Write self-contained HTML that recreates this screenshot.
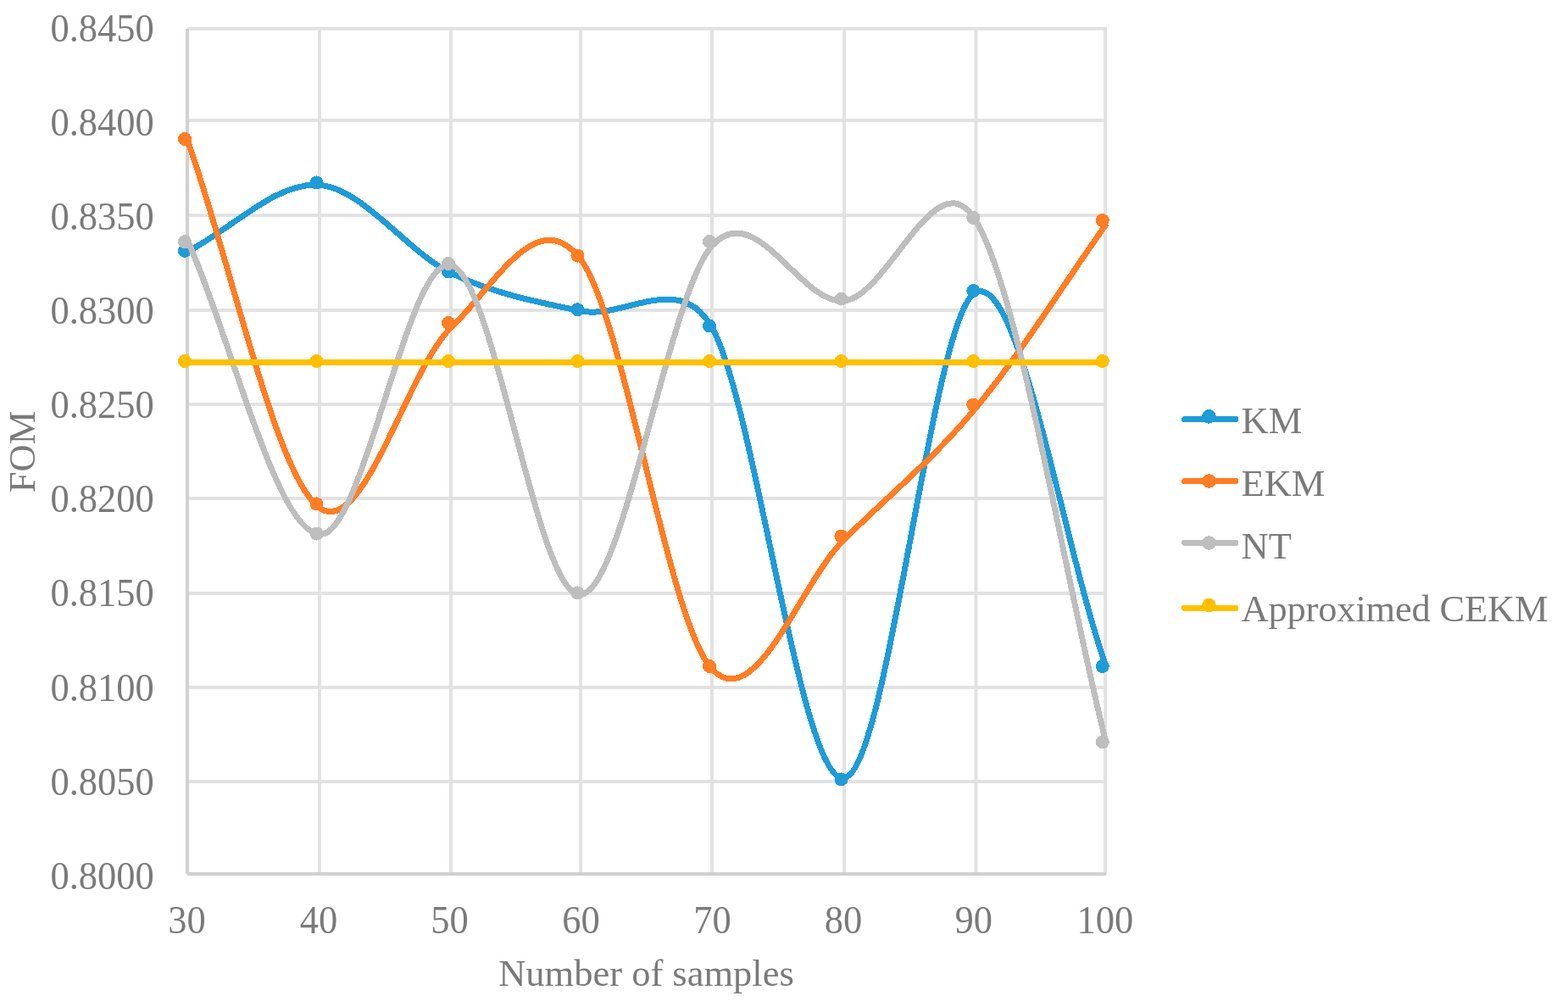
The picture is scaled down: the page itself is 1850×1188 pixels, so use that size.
<!DOCTYPE html><html><head><meta charset="utf-8"><title>FOM vs Number of samples</title><style>
html,body{margin:0;padding:0;background:#fff;width:1850px;height:1188px;overflow:hidden}
svg{display:block}
.s path,.s circle,.s line{shape-rendering:crispEdges}
text{font-family:"Liberation Serif","Times New Roman",serif;font-size:44.5px;fill:#7a7a7a}
</style></head><body>
<svg width="1850" height="1188" viewBox="0 0 1850 1188">
<rect width="1850" height="1188" fill="#fff"/>
<g stroke="#e2e2e2" stroke-width="4" fill="none">
<line x1="221" y1="33.8" x2="1306" y2="33.8"/>
<line x1="221" y1="142.0" x2="1306" y2="142.0"/>
<line x1="221" y1="254.0" x2="1306" y2="254.0"/>
<line x1="221" y1="366.0" x2="1306" y2="366.0"/>
<line x1="221" y1="477.0" x2="1306" y2="477.0"/>
<line x1="221" y1="588.0" x2="1306" y2="588.0"/>
<line x1="221" y1="700.0" x2="1306" y2="700.0"/>
<line x1="221" y1="811.0" x2="1306" y2="811.0"/>
<line x1="221" y1="922.0" x2="1306" y2="922.0"/>
<line x1="377.0" y1="34" x2="377.0" y2="1031"/>
<line x1="532.0" y1="34" x2="532.0" y2="1031"/>
<line x1="685.0" y1="34" x2="685.0" y2="1031"/>
<line x1="840.0" y1="34" x2="840.0" y2="1031"/>
<line x1="996.0" y1="34" x2="996.0" y2="1031"/>
<line x1="1151.5" y1="34" x2="1151.5" y2="1031"/>
<line x1="1304.0" y1="34" x2="1304.0" y2="1031"/>
</g>
<g stroke="#d0d0d0" stroke-width="4" fill="none">
<line x1="221" y1="34" x2="221" y2="1031"/>
<line x1="221" y1="1031.0" x2="1305" y2="1031.0"/>
</g>
<g text-anchor="end">
<text x="181.8" y="48.9" transform="matrix(1,0,0,1.0200,0,-0.978)">0.8450</text>
<text x="181.8" y="160.0" transform="matrix(1,0,0,1.0200,0,-3.200)">0.8400</text>
<text x="181.8" y="271.1" transform="matrix(1,0,0,1.0200,0,-5.422)">0.8350</text>
<text x="181.8" y="382.2" transform="matrix(1,0,0,1.0200,0,-7.644)">0.8300</text>
<text x="181.8" y="493.3" transform="matrix(1,0,0,1.0200,0,-9.866)">0.8250</text>
<text x="181.8" y="604.4" transform="matrix(1,0,0,1.0200,0,-12.088)">0.8200</text>
<text x="181.8" y="715.5" transform="matrix(1,0,0,1.0200,0,-14.310)">0.8150</text>
<text x="181.8" y="826.6" transform="matrix(1,0,0,1.0200,0,-16.532)">0.8100</text>
<text x="181.8" y="937.7" transform="matrix(1,0,0,1.0200,0,-18.754)">0.8050</text>
<text x="181.8" y="1048.8" transform="matrix(1,0,0,1.0200,0,-20.976)">0.8000</text>
</g>
<g text-anchor="middle">
<text x="220.5" y="1101" transform="matrix(1,0,0,1.0200,0,-22.020)">30</text>
<text x="376.0" y="1101" transform="matrix(1,0,0,1.0200,0,-22.020)">40</text>
<text x="530.5" y="1101" transform="matrix(1,0,0,1.0200,0,-22.020)">50</text>
<text x="685.6" y="1101" transform="matrix(1,0,0,1.0200,0,-22.020)">60</text>
<text x="840.6" y="1101" transform="matrix(1,0,0,1.0200,0,-22.020)">70</text>
<text x="995.1" y="1101" transform="matrix(1,0,0,1.0200,0,-22.020)">80</text>
<text x="1148.8" y="1101" transform="matrix(1,0,0,1.0200,0,-22.020)">90</text>
<text x="1303.9" y="1101" transform="matrix(1,0,0,1.0200,0,-22.020)">100</text>
</g>
<text text-anchor="middle" x="762.5" y="1163">Number of samples</text>
<text transform="translate(40.9,533) rotate(-90)" text-anchor="middle">FOM</text>
<g class="s">
<path d="M221.00,296.94 C273.00,270.75 325.17,214.17 377.00,218.37 C428.83,222.57 480.67,297.38 532.00,322.13 C583.33,346.88 633.67,356.15 685.00,366.85 C736.33,377.55 801.60,318.30 840.00,386.32 C891.83,478.13 944.08,924.62 996.00,917.72 C1047.92,910.82 1100.17,367.25 1151.50,344.90 C1202.83,322.55 1253.17,637.37 1304.00,783.61" fill="none" stroke="#1f9bd7" stroke-width="7" stroke-linecap="round" stroke-linejoin="round"/>
<g fill="#1f9bd7">
<circle cx="218.0" cy="295.9" r="8"/>
<circle cx="373.5" cy="215.4" r="8"/>
<circle cx="529.0" cy="320.5" r="8"/>
<circle cx="681.5" cy="365.3" r="8"/>
<circle cx="837.0" cy="384.5" r="8"/>
<circle cx="992.5" cy="919.4" r="8"/>
<circle cx="1148.3" cy="343.0" r="8"/>
<circle cx="1300.8" cy="786.0" r="8"/>
</g>
<path d="M221.00,165.09 C273.00,309.78 325.17,562.22 377.00,599.17 C428.83,636.12 480.67,435.66 532.00,386.77 C583.33,337.88 633.67,238.73 685.00,305.83 C736.33,372.92 788.17,734.24 840.00,789.34 C891.83,844.44 944.08,687.81 996.00,636.43 C1047.92,585.05 1100.17,542.80 1151.50,481.08 C1202.83,419.36 1253.17,337.76 1304.00,266.10" fill="none" stroke="#ff7d24" stroke-width="7" stroke-linecap="round" stroke-linejoin="round"/>
<g fill="#ff7d24">
<circle cx="218.0" cy="164.0" r="8"/>
<circle cx="373.5" cy="594.4" r="8"/>
<circle cx="529.0" cy="381.0" r="8"/>
<circle cx="681.5" cy="301.5" r="8"/>
<circle cx="837.0" cy="786.0" r="8"/>
<circle cx="992.5" cy="632.5" r="8"/>
<circle cx="1148.3" cy="477.5" r="8"/>
<circle cx="1300.8" cy="260.0" r="8"/>
</g>
<path d="M221.00,282.94 C273.00,398.77 325.17,625.43 377.00,630.43 C428.83,635.43 480.67,301.09 532.00,312.92 C583.33,324.75 633.67,705.25 685.00,701.44 C736.33,697.63 788.17,347.79 840.00,290.04 C891.83,232.29 944.08,359.87 996.00,354.95 C1047.92,350.03 1104.96,182.38 1151.50,260.53 C1202.83,346.73 1253.17,668.28 1304.00,872.16" fill="none" stroke="#bebebe" stroke-width="7" stroke-linecap="round" stroke-linejoin="round"/>
<g fill="#bebebe">
<circle cx="218.0" cy="285.2" r="8"/>
<circle cx="373.5" cy="629.5" r="8"/>
<circle cx="529.0" cy="311.0" r="8"/>
<circle cx="681.5" cy="699.4" r="8"/>
<circle cx="837.0" cy="285.0" r="8"/>
<circle cx="992.5" cy="352.7" r="8"/>
<circle cx="1148.3" cy="257.0" r="8"/>
<circle cx="1300.8" cy="875.4" r="8"/>
</g>
<path d="M221.00,427.50 C273.00,427.50 325.17,427.50 377.00,427.50 C428.83,427.50 480.67,427.50 532.00,427.50 C583.33,427.50 633.67,427.50 685.00,427.50 C736.33,427.50 788.17,427.50 840.00,427.50 C891.83,427.50 944.08,427.50 996.00,427.50 C1047.92,427.50 1100.17,427.50 1151.50,427.50 C1202.83,427.50 1253.17,427.50 1304.00,427.50" fill="none" stroke="#ffc000" stroke-width="7" stroke-linecap="round" stroke-linejoin="round"/>
<g fill="#ffc000">
<circle cx="218.0" cy="426.0" r="8"/>
<circle cx="373.5" cy="426.0" r="8"/>
<circle cx="529.0" cy="426.0" r="8"/>
<circle cx="681.5" cy="426.0" r="8"/>
<circle cx="837.0" cy="426.0" r="8"/>
<circle cx="992.5" cy="426.0" r="8"/>
<circle cx="1148.3" cy="426.0" r="8"/>
<circle cx="1300.8" cy="426.0" r="8"/>
</g>
</g>
<g class="s">
<line x1="1397.5" y1="494.5" x2="1458" y2="494.5" stroke="#1f9bd7" stroke-width="7" stroke-linecap="round"/>
<circle cx="1426.4" cy="491.4" r="8.3" fill="#1f9bd7"/>
<text x="1464.5" y="511.0">KM</text>
<line x1="1397.5" y1="567.5" x2="1458" y2="567.5" stroke="#ff7d24" stroke-width="7" stroke-linecap="round"/>
<circle cx="1426.4" cy="567.5" r="8.3" fill="#ff7d24"/>
<text x="1464.5" y="585.0">EKM</text>
<line x1="1397.5" y1="640.4" x2="1458" y2="640.4" stroke="#bebebe" stroke-width="7" stroke-linecap="round"/>
<circle cx="1426.4" cy="640.5" r="8.3" fill="#bebebe"/>
<text x="1464.5" y="659.0">NT</text>
<line x1="1397.5" y1="717.4" x2="1458" y2="717.4" stroke="#ffc000" stroke-width="7" stroke-linecap="round"/>
<circle cx="1426.4" cy="714.0" r="8.3" fill="#ffc000"/>
<text x="1464.5" y="733.0" letter-spacing="-0.18">Approximed CEKM</text>
</g>
</svg></body></html>
